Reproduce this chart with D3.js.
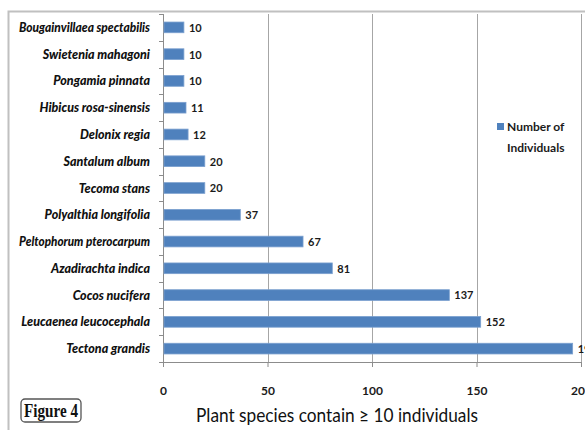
<!DOCTYPE html>
<html>
<head>
<meta charset="utf-8">
<script src="https://cdn.jsdelivr.net/npm/d3@7"></script>
<style>
  html, body { margin: 0; padding: 0; background: #fff; }
  svg { display: block; }
</style>
</head>
<body>
<svg id="chart" width="585" height="430"></svg>
<script>
const categories = [
  "Bougainvillaea spectabilis",
  "Swietenia mahagoni",
  "Pongamia pinnata",
  "Hibicus rosa-sinensis",
  "Delonix regia",
  "Santalum album",
  "Tecoma stans",
  "Polyalthia longifolia",
  "Peltophorum pterocarpum",
  "Azadirachta indica",
  "Cocos nucifera",
  "Leucaenea leucocephala",
  "Tectona grandis"
];
const values = [10, 10, 10, 11, 12, 20, 20, 37, 67, 81, 137, 152, 196];
const xTicks = [0, 50, 100, 150, 200];
const seriesName = ["Number of", "Individuals"];
const xTitle = "Plant species contain \u2265 10 individuals";
const figureLabel = "Figure 4";

(function () {
const svg = d3.select("#chart");
const font = "Lato, 'Open Sans', sans-serif";

const pLeft = 163, pRight = 581, pTop = 14, pBottom = 362;

const x = d3.scaleLinear().domain([0, 200]).range([pLeft, pRight]);
const y = d3.scaleBand().domain(categories).range([pTop, pBottom]).paddingInner(0.6).paddingOuter(0.3);

// outer frame
svg.append("path")
  .attr("d", `M8.5,430 L8.5,11.5 L585,11.5`)
  .attr("fill", "none").attr("stroke", "#c0c0c0").attr("stroke-width", 2);

// gridlines
svg.append("g").selectAll("line").data(xTicks.filter(d => d > 0)).join("line")
  .attr("x1", d => Math.round(x(d)) + 0.5).attr("x2", d => Math.round(x(d)) + 0.5)
  .attr("y1", pTop).attr("y2", pBottom)
  .attr("stroke", "#a6a6a6").attr("stroke-width", 1);

// x axis
const xAxis = d3.axisBottom(x).tickValues(xTicks).tickSize(5).tickPadding(19).tickFormat(d3.format("d"));
const gx = svg.append("g").attr("transform", `translate(0,${pBottom})`).call(xAxis);
gx.select(".domain").attr("stroke", "#8c8c8c");
gx.selectAll(".tick line").attr("stroke", "#8c8c8c");
gx.selectAll(".tick text")
  .attr("font-family", font).attr("font-weight", "bold").attr("font-size", 12).attr("fill", "#1a1a1a");

// y axis line and ticks at band boundaries
const boundaries = d3.range(categories.length + 1).map(i => pTop + i * (pBottom - pTop) / categories.length);
svg.append("line").attr("x1", pLeft + 0.5).attr("x2", pLeft + 0.5).attr("y1", pTop).attr("y2", pBottom)
  .attr("stroke", "#8c8c8c");
svg.append("g").selectAll("line").data(boundaries).join("line")
  .attr("x1", pLeft - 4).attr("x2", pLeft)
  .attr("y1", d => Math.round(d) + 0.5).attr("y2", d => Math.round(d) + 0.5)
  .attr("stroke", "#8c8c8c");

// category labels
svg.append("g").selectAll("text").data(categories).join("text")
  .attr("x", 150)
  .attr("y", d => y(d) + y.bandwidth() / 2)
  .attr("dy", "0.36em")
  .attr("text-anchor", "end")
  .attr("font-family", font).attr("font-weight", "900").attr("font-style", "italic")
  .attr("font-size", 12.5).attr("fill", "#111")
  .attr("textLength", d => null)
  .text(d => d)
  .each(function () {
    // keep labels within the left margin like the reference
    const w = this.getComputedTextLength();
    const maxW = 131;
    if (w > maxW) d3.select(this).attr("textLength", maxW).attr("lengthAdjust", "spacingAndGlyphs");
  });

// bars
svg.append("g").selectAll("rect").data(values).join("rect")
  .attr("x", pLeft + 1)
  .attr("y", (d, i) => y(categories[i]))
  .attr("width", d => x(d) - pLeft - 1)
  .attr("height", y.bandwidth())
  .attr("fill", "#4f81bd")
  .attr("stroke", "#7ba0cf").attr("stroke-width", 0.8);

// value labels
svg.append("g").selectAll("text").data(values).join("text")
  .attr("x", d => x(d) + 5)
  .attr("y", (d, i) => y(categories[i]) + y.bandwidth() / 2)
  .attr("dy", "0.4em")
  .attr("font-family", font).attr("font-weight", "bold").attr("font-size", 11).attr("fill", "#1a1a1a")
  .text(d => d);

// legend
const lg = svg.append("g");
lg.append("rect").attr("x", 497).attr("y", 123).attr("width", 7).attr("height", 7).attr("fill", "#4f81bd");
lg.selectAll("text").data(seriesName).join("text")
  .attr("x", 507).attr("y", (d, i) => 131 + i * 21)
  .attr("font-family", font).attr("font-weight", "bold").attr("font-size", 12).attr("fill", "#1a1a1a")
  .text(d => d);

// x axis title
svg.append("text")
  .attr("x", 337).attr("y", 422)
  .attr("text-anchor", "middle")
  .attr("font-family", font).attr("font-size", 20).attr("fill", "#111")
  .attr("textLength", 282).attr("lengthAdjust", "spacingAndGlyphs")
  .text(xTitle);

// figure label box
svg.append("rect").attr("x", 21).attr("y", 399).attr("width", 60).attr("height", 23).attr("rx", 4)
  .attr("fill", "#fff").attr("stroke", "#555").attr("stroke-width", 1.3);
svg.append("text").attr("x", 51).attr("y", 417).attr("text-anchor", "middle")
  .attr("font-family", "'Liberation Serif', 'DejaVu Serif', serif").attr("font-weight", "bold").attr("font-size", 18)
  .attr("textLength", 54).attr("lengthAdjust", "spacingAndGlyphs")
  .attr("fill", "#111").text(figureLabel);
})();
</script>
</body>
</html>
